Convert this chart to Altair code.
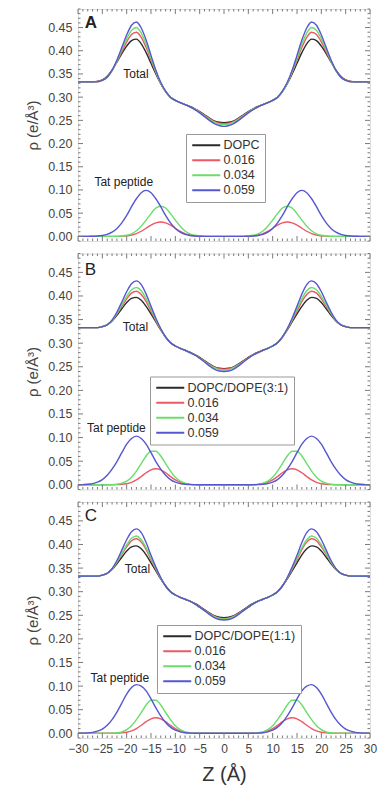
import altair as alt
import pandas as pd

FONT = "Liberation Sans"

# half-profiles (z = 0..30 Å); bilayer profiles are symmetric about z = 0
z_half = list(range(0, 31))
lipid_names = ["DOPC", "DOPC/DOPE(3:1)", "DOPC/DOPE(1:1)"]
conc_names = ["0.016", "0.034", "0.059"]
line_colors = ["#2a2a2a", "#ec5864", "#6ade6a", "#5656d2"]
panel_letters = ["A", "B", "C"]
letter_weight = ["bold", "normal", "normal"]

# ---- Panel A ----
A_total_lipid = [0.245,0.246,0.249,0.255,0.262,0.269,0.275,0.280,0.284,0.288,0.293,0.300,0.312,0.329,0.350,0.373,0.396,0.415,0.425,0.422,0.410,0.394,0.376,0.358,0.345,0.337,0.334,0.333,0.333,0.333,0.333]
A_total_016 = [0.243,0.244,0.248,0.254,0.261,0.268,0.274,0.279,0.284,0.288,0.293,0.300,0.312,0.330,0.353,0.380,0.407,0.429,0.440,0.435,0.419,0.398,0.377,0.357,0.344,0.337,0.334,0.333,0.333,0.333,0.333]
A_total_034 = [0.241,0.242,0.246,0.252,0.260,0.267,0.274,0.279,0.284,0.288,0.293,0.300,0.312,0.330,0.355,0.384,0.414,0.438,0.450,0.444,0.426,0.402,0.378,0.357,0.343,0.336,0.333,0.333,0.333,0.333,0.333]
A_total_059 = [0.237,0.239,0.243,0.250,0.258,0.266,0.273,0.279,0.284,0.288,0.293,0.300,0.313,0.332,0.358,0.390,0.423,0.449,0.462,0.455,0.434,0.407,0.380,0.358,0.343,0.336,0.333,0.333,0.333,0.333,0.333]
A_tat_016 = [0,0,0,0,0,0.0005,0.0013,0.003,0.006,0.011,0.0175,0.024,0.029,0.031,0.029,0.024,0.0175,0.011,0.006,0.003,0.0013,0.0005,0,0,0,0,0,0,0,0,0]
A_tat_034 = [0,0,0,0,0.0003,0.0008,0.0023,0.0055,0.0117,0.0217,0.035,0.049,0.061,0.065,0.061,0.049,0.035,0.022,0.012,0.0055,0.0023,0.0008,0.0003,0,0,0,0,0,0,0,0]
A_tat_059 = [0,0,0,0,0,0.0003,0.0007,0.0019,0.0044,0.0091,0.017,0.029,0.045,0.064,0.081,0.094,0.099,0.094,0.081,0.064,0.045,0.029,0.017,0.0091,0.0044,0.0019,0.0007,0.0003,0,0,0]

# ---- Panel B ----
B_total_lipid = [0.246,0.247,0.250,0.256,0.263,0.270,0.276,0.281,0.285,0.289,0.294,0.301,0.313,0.328,0.345,0.362,0.378,0.391,0.397,0.395,0.386,0.373,0.359,0.347,0.339,0.335,0.333,0.333,0.333,0.333,0.333]
B_total_016 = [0.245,0.246,0.249,0.255,0.262,0.269,0.275,0.280,0.285,0.289,0.294,0.301,0.313,0.329,0.348,0.368,0.388,0.403,0.410,0.406,0.394,0.378,0.362,0.348,0.339,0.335,0.333,0.333,0.333,0.333,0.333]
B_total_034 = [0.243,0.244,0.248,0.254,0.261,0.268,0.275,0.280,0.285,0.289,0.294,0.301,0.313,0.330,0.350,0.372,0.394,0.411,0.418,0.413,0.399,0.381,0.363,0.348,0.339,0.335,0.333,0.333,0.333,0.333,0.333]
B_total_059 = [0.240,0.241,0.245,0.252,0.260,0.268,0.275,0.280,0.285,0.289,0.294,0.301,0.313,0.331,0.353,0.378,0.404,0.424,0.432,0.426,0.409,0.387,0.366,0.349,0.339,0.335,0.333,0.333,0.333,0.333,0.333]
B_tat_016 = [0,0,0,0,0,0,0.0003,0.0009,0.0023,0.0053,0.0103,0.0175,0.0254,0.0316,0.034,0.0316,0.0254,0.0175,0.0103,0.0053,0.0023,0.0009,0.0003,0,0,0,0,0,0,0,0]
B_tat_034 = [0,0,0,0,0,0,0.0003,0.0011,0.0032,0.0077,0.016,0.029,0.045,0.061,0.071,0.071,0.061,0.045,0.029,0.016,0.0077,0.0032,0.0011,0.0003,0,0,0,0,0,0,0]
B_tat_059 = [0,0,0,0,0,0,0,0.0004,0.001,0.0025,0.0055,0.011,0.020,0.033,0.049,0.068,0.086,0.098,0.103,0.098,0.086,0.068,0.049,0.033,0.020,0.011,0.0055,0.0025,0.001,0.0004,0]

# ---- Panel C ----
C_total_lipid = [0.245,0.246,0.249,0.255,0.262,0.269,0.275,0.280,0.284,0.288,0.293,0.300,0.312,0.327,0.344,0.361,0.378,0.391,0.397,0.395,0.386,0.373,0.359,0.347,0.339,0.335,0.333,0.333,0.333,0.333,0.333]
C_total_016 = [0.243,0.244,0.248,0.254,0.261,0.268,0.274,0.280,0.284,0.288,0.293,0.300,0.312,0.328,0.347,0.368,0.389,0.405,0.412,0.408,0.395,0.379,0.362,0.348,0.339,0.335,0.333,0.333,0.333,0.333,0.333]
C_total_034 = [0.242,0.243,0.247,0.253,0.260,0.267,0.274,0.280,0.284,0.288,0.293,0.300,0.312,0.329,0.349,0.371,0.393,0.410,0.418,0.413,0.399,0.381,0.363,0.348,0.339,0.335,0.333,0.333,0.333,0.333,0.333]
C_total_059 = [0.240,0.241,0.245,0.252,0.260,0.267,0.274,0.280,0.284,0.288,0.293,0.300,0.312,0.330,0.352,0.377,0.404,0.425,0.433,0.427,0.410,0.388,0.366,0.349,0.339,0.335,0.333,0.333,0.333,0.333,0.333]
C_tat_016 = [0,0,0,0,0,0,0.0003,0.0009,0.0022,0.0051,0.010,0.017,0.0246,0.0307,0.033,0.0307,0.0246,0.017,0.010,0.0051,0.0022,0.0009,0.0003,0,0,0,0,0,0,0,0]
C_tat_034 = [0,0,0,0,0,0,0.0003,0.0011,0.0031,0.0076,0.016,0.029,0.044,0.060,0.070,0.070,0.060,0.044,0.029,0.016,0.0076,0.0031,0.0011,0.0003,0,0,0,0,0,0,0]
C_tat_059 = [0,0,0,0,0,0,0,0.0005,0.0012,0.003,0.0065,0.013,0.023,0.037,0.054,0.073,0.090,0.100,0.103,0.097,0.083,0.064,0.045,0.029,0.017,0.009,0.0045,0.002,0.0008,0.0003,0]

total_sets = [
    [A_total_lipid, A_total_016, A_total_034, A_total_059],
    [B_total_lipid, B_total_016, B_total_034, B_total_059],
    [C_total_lipid, C_total_016, C_total_034, C_total_059],
]
tat_sets = [
    [A_tat_016, A_tat_034, A_tat_059],
    [B_tat_016, B_tat_034, B_tat_059],
    [C_tat_016, C_tat_034, C_tat_059],
]

label_text = ["Total", "Tat peptide"]
label_z = [[-18.1, -20.6], [-18.2, -22.1], [-17.8, -21.4]]
label_rho = [[0.350, 0.117], [0.335, 0.120], [0.347, 0.118]]
letter_z = -28.6
letter_rho = [0.459, 0.454, 0.461]

# axis tick positions
y_ticks = [0.0, 0.05, 0.10, 0.15, 0.20, 0.25, 0.30, 0.35, 0.40, 0.45]
x_ticks = [-30, -25, -20, -15, -10, -5, 0, 5, 10, 15, 20, 25, 30]
x_minor = list(range(-30, 31))
y_minor = [round(i * 0.01, 2) for i in range(-1, 50)]

# layout
legend_xy = [(108, 125), (72, 123), (79, 123)]
panel_heights = [232, 236, 236]
W = 292
MAJOR = 5
MINOR = 2.5
TICK_COLOR = "#7a7a7a"

z_full = [-z for z in z_half[:0:-1]] + z_half


def mirror(half):
    return half[:0:-1] + half


rows = []
for p in range(3):
    names = [lipid_names[p]] + conc_names
    for s in range(4):
        for z, v in zip(z_full, mirror(total_sets[p][s])):
            rows.append({"panel": p, "series": names[s], "comp": "total", "z": z, "rho": v})
        if s > 0:
            for z, v in zip(z_full, mirror(tat_sets[p][s - 1])):
                rows.append({"panel": p, "series": names[s], "comp": "tat", "z": z, "rho": v})
df = pd.DataFrame(rows)

trows = []
for p in range(3):
    for k in range(2):
        trows.append({"panel": p, "label": label_text[k], "z": label_z[p][k], "rho": label_rho[p][k]})
tdf = pd.DataFrame(trows)

xt_df = pd.DataFrame({"z": x_minor, "len": [MAJOR if v in x_ticks else MINOR for v in x_minor]})
yt_df = pd.DataFrame({"rho": y_minor,
                      "len": [MAJOR if any(abs(v - t) < 1e-9 for t in y_ticks) else MINOR for v in y_minor]})


def make_panel(i):
    h = panel_heights[i]
    d = df[df.panel == i]
    names = [lipid_names[i]] + conc_names
    xs = alt.Scale(domain=[-30, 30], nice=False, zero=False)
    ys = alt.Scale(domain=[-0.01, 0.49], nice=False, zero=False)
    if i == 2:
        xaxis = alt.Axis(orient="bottom", values=x_ticks, ticks=False, domain=False, grid=False,
                         labelFontSize=12, labelColor="#444", labelPadding=5, labelFont=FONT,
                         labelOverlap=False, labelFlush=False,
                         title="Z (Å)", titleFontSize=20, titleFontWeight="normal", titleColor="#333",
                         titleFont=FONT, titlePadding=10)
    else:
        xaxis = None
    yaxis = alt.Axis(orient="left", values=y_ticks, format=".2f", ticks=False, domain=False, grid=False,
                     labelFontSize=12.5, labelColor="#444", labelPadding=6, labelFont=FONT,
                     labelOverlap=False, labelFlush=False,
                     title="ρ (e/Å³)", titleFontSize=15, titleFontWeight="normal", titleColor="#444",
                     titleFont=FONT, titlePadding=7)

    def X(field="z:Q"):
        return alt.X(field, scale=xs, axis=xaxis)

    def Y(field="rho:Q"):
        return alt.Y(field, scale=ys, axis=yaxis)

    lx, ly = legend_xy[i]
    lines = alt.Chart(d).mark_line(strokeWidth=1.4, interpolate="monotone").encode(
        x=X(),
        y=Y(),
        color=alt.Color("series:N", scale=alt.Scale(domain=names, range=line_colors),
                        legend=alt.Legend(orient="none", legendX=lx, legendY=ly, direction="vertical",
                                          title=None, symbolType="M-1,0H4.6", symbolSize=100,
                                          symbolStrokeWidth=2, labelFontSize=12.5, labelColor="#333",
                                          labelFont=FONT, labelOffset=20, rowPadding=2, padding=5,
                                          strokeColor="#999", fillColor="white", labelLimit=250)),
        detail="comp:N",
    )
    texts = alt.Chart(tdf[tdf.panel == i]).mark_text(fontSize=12, color="#222", font=FONT,
                                                     align="center", baseline="middle").encode(
        x=X(), y=Y(), text="label:N",
    )
    ldf = pd.DataFrame({"label": [panel_letters[i]], "z": [letter_z], "rho": [letter_rho[i]]})
    letter = alt.Chart(ldf).mark_text(fontSize=17, color="#222", font=FONT, align="left",
                                      baseline="middle", fontWeight=letter_weight[i]).encode(
        x=X(), y=Y(), text="label:N",
    )
    # inward ticks on all four sides of the frame
    layers = [lines, texts, letter]
    for ln in (MAJOR, MINOR):
        sub_x = xt_df[xt_df.len == ln]
        sub_y = yt_df[yt_df.len == ln]
        layers.append(alt.Chart(sub_x).mark_rule(color=TICK_COLOR, strokeWidth=1).encode(
            x=X(), y=alt.value(h), y2=alt.value(h - ln)))
        layers.append(alt.Chart(sub_x).mark_rule(color=TICK_COLOR, strokeWidth=1).encode(
            x=X(), y=alt.value(0), y2=alt.value(ln)))
        layers.append(alt.Chart(sub_y).mark_rule(color=TICK_COLOR, strokeWidth=1).encode(
            y=Y(), x=alt.value(0), x2=alt.value(ln)))
        layers.append(alt.Chart(sub_y).mark_rule(color=TICK_COLOR, strokeWidth=1).encode(
            y=Y(), x=alt.value(W), x2=alt.value(W - ln)))
    return alt.layer(*layers).properties(width=W, height=h)


chart = alt.vconcat(make_panel(0), make_panel(1), make_panel(2), spacing=8.5).resolve_scale(
    color="independent").properties(
    padding={"left": 25, "top": 8, "right": 0, "bottom": 0}
).configure_view(stroke="#8a8a8a", strokeWidth=1).configure(font=FONT, background="white")

chart.save("out.html", embed_options={"renderer": "svg", "actions": False})
